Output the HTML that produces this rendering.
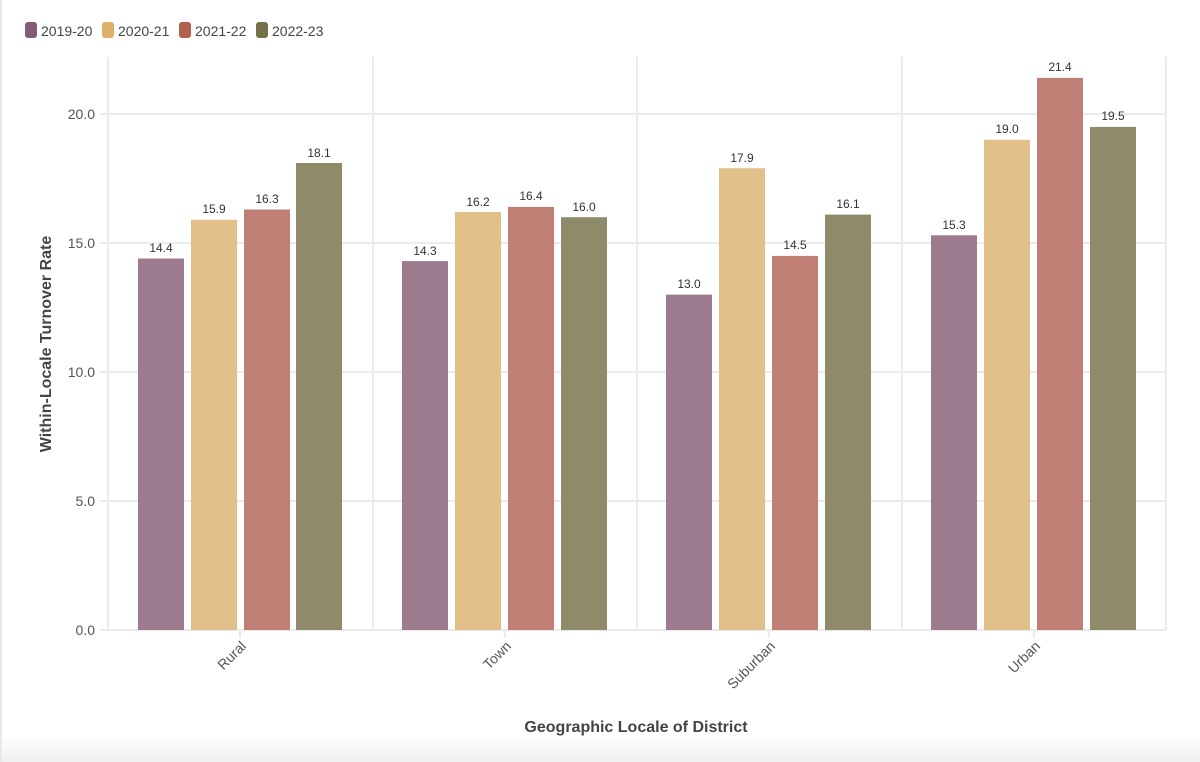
<!DOCTYPE html>
<html><head><meta charset="utf-8"><style>
html,body{margin:0;padding:0;background:#fff;}
svg{display:block;font-family:"Liberation Sans",sans-serif;}
</style></head><body>
<svg width="1200" height="762" viewBox="0 0 1200 762">
<defs><linearGradient id="g" x1="0" y1="0" x2="0" y2="1"><stop offset="0" stop-color="#fff"/><stop offset="1" stop-color="#f0f0f0"/></linearGradient></defs>
<rect x="0" y="735" width="1200" height="27" fill="url(#g)"/>
<rect x="0" y="0" width="2" height="762" fill="#e8e8e8"/>
<!-- legend -->
<g font-size="14" fill="#444">
<rect x="25" y="22" width="12" height="16" rx="3" fill="#845c7a"/><text x="41" y="36">2019-20</text>
<rect x="102" y="22" width="12" height="16" rx="3" fill="#ddb06a"/><text x="118" y="36">2020-21</text>
<rect x="179" y="22" width="12" height="16" rx="3" fill="#b0604f"/><text x="195" y="36">2021-22</text>
<rect x="256" y="22" width="12" height="16" rx="3" fill="#75724a"/><text x="272" y="36">2022-23</text>
</g>
<!-- grid -->
<g stroke="#ebebeb" stroke-width="2">
<line x1="100" y1="114" x2="1166" y2="114"/><line x1="100" y1="243" x2="1166" y2="243"/>
<line x1="100" y1="372" x2="1166" y2="372"/><line x1="100" y1="501" x2="1166" y2="501"/>
<line x1="100" y1="630" x2="1166" y2="630"/>
<line x1="108" y1="57" x2="108" y2="630"/><line x1="373" y1="57" x2="373" y2="630"/>
<line x1="637" y1="57" x2="637" y2="630"/><line x1="902" y1="57" x2="902" y2="630"/>
<line x1="1166" y1="57" x2="1166" y2="630"/>
<line x1="240" y1="630" x2="240" y2="638"/><line x1="505" y1="630" x2="505" y2="638"/>
<line x1="769" y1="630" x2="769" y2="638"/><line x1="1034" y1="630" x2="1034" y2="638"/>
</g>
<g font-size="14" fill="#555" text-anchor="end">
<text x="95" y="119">20.0</text><text x="95" y="248">15.0</text><text x="95" y="377">10.0</text>
<text x="95" y="506">5.0</text><text x="95" y="635">0.0</text>
</g>
<!-- bars -->
<g>
<rect x="138" y="258.5" width="46" height="371.5" fill="#9c7b8f"/>
<rect x="191" y="219.8" width="46" height="410.2" fill="#e0bf88"/>
<rect x="244" y="209.5" width="46" height="420.5" fill="#bf7f74"/>
<rect x="296" y="163" width="46" height="467" fill="#8e8a6a"/>
<rect x="402" y="261.1" width="46" height="368.9" fill="#9c7b8f"/>
<rect x="455" y="212" width="46" height="418" fill="#e0bf88"/>
<rect x="508" y="206.9" width="46" height="423.1" fill="#bf7f74"/>
<rect x="561" y="217.2" width="46" height="412.8" fill="#8e8a6a"/>
<rect x="666" y="294.6" width="46" height="335.4" fill="#9c7b8f"/>
<rect x="719" y="168.2" width="46" height="461.8" fill="#e0bf88"/>
<rect x="772" y="255.9" width="46" height="374.1" fill="#bf7f74"/>
<rect x="825" y="214.6" width="46" height="415.4" fill="#8e8a6a"/>
<rect x="931" y="235.3" width="46" height="394.7" fill="#9c7b8f"/>
<rect x="984" y="139.8" width="46" height="490.2" fill="#e0bf88"/>
<rect x="1037" y="77.9" width="46" height="552.1" fill="#bf7f74"/>
<rect x="1090" y="126.9" width="46" height="503.1" fill="#8e8a6a"/>
</g>
<g font-size="12" fill="#333" text-anchor="middle">
<text x="161" y="252">14.4</text><text x="214" y="213">15.9</text><text x="267" y="203">16.3</text><text x="319" y="157">18.1</text>
<text x="425" y="255">14.3</text><text x="478" y="206">16.2</text><text x="531" y="200">16.4</text><text x="584" y="211">16.0</text>
<text x="689" y="288">13.0</text><text x="742" y="162">17.9</text><text x="795" y="249">14.5</text><text x="848" y="208">16.1</text>
<text x="954" y="229">15.3</text><text x="1007" y="133">19.0</text><text x="1060" y="71">21.4</text><text x="1113" y="120">19.5</text>
</g>
<g font-size="14" fill="#555" text-anchor="end">
<text transform="translate(247,647) rotate(-45)">Rural</text>
<text transform="translate(512,647) rotate(-45)">Town</text>
<text transform="translate(776,647) rotate(-45)">Suburban</text>
<text transform="translate(1041,647) rotate(-45)">Urban</text>
</g>
<text x="636" y="732" font-size="16" font-weight="bold" fill="#444" text-anchor="middle">Geographic Locale of District</text>
<text transform="translate(51,344) rotate(-90)" font-size="16" font-weight="bold" fill="#444" text-anchor="middle">Within-Locale Turnover Rate</text>
</svg>
</body></html>
